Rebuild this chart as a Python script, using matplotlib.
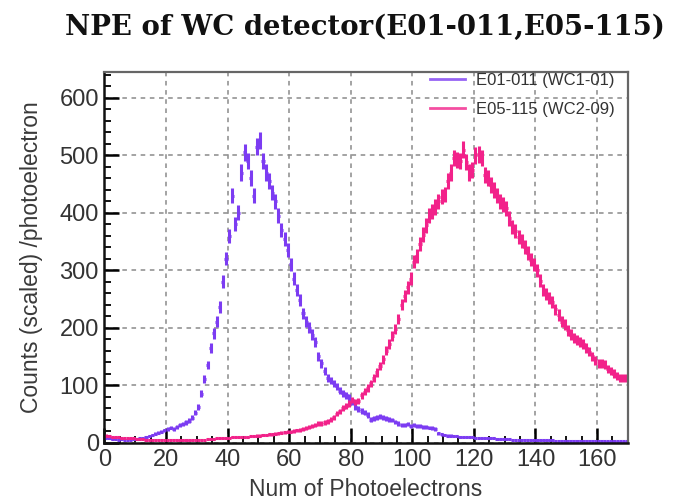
import numpy as np
import matplotlib
matplotlib.use('Agg')
import matplotlib.pyplot as plt
from matplotlib.ticker import MultipleLocator

# bin centres 0.5 ... 169.5 (1 photoelectron per bin)
bin_lo = 0
bin_hi = 170

# E01-011 (WC1-01), values read per bin
npe_wc1 = [
    8, 7, 6, 6, 5, 6, 5, 5, 5, 6,
    6, 7, 8, 9, 11, 13, 15, 17, 19, 21,
    24, 26, 24, 27, 30, 32, 35, 38, 43, 52,
    62, 85, 110, 135, 165, 190, 210, 236, 280, 320,
    360, 430, 380, 400, 470, 505, 490, 460, 430, 515,
    525, 490, 470, 455, 435, 420, 395, 370, 355, 335,
    310, 285, 265, 248, 225, 210, 200, 188, 175, 150,
    138, 125, 112, 108, 103, 98, 90, 86, 82, 78,
    70, 62, 58, 55, 52, 48, 40, 42, 44, 45,
    43, 42, 40, 39, 36, 33, 30, 31, 32, 29,
    30, 28, 29, 27, 27, 26, 25, 24, 16, 14,
    13, 12, 12, 11, 11, 10, 10, 9, 9, 9,
    8, 8, 8, 7, 7, 7, 7, 6, 6, 6,
    6, 6, 5, 5, 5, 5, 5, 5, 4, 4,
    4, 4, 4, 4, 4, 4, 3, 3, 3, 3,
    3, 3, 3, 3, 3, 3, 3, 3, 3, 3,
    3, 3, 2, 2, 2, 2, 2, 2, 2, 2,
]

# E05-115 (WC2-09), values read per bin
npe_wc2 = [
    12, 11, 10, 9, 9, 8, 8, 7, 7, 7,
    6, 6, 6, 5, 5, 5, 5, 5, 5, 5,
    5, 5, 5, 4, 4, 4, 4, 4, 4, 5,
    5, 5, 5, 6, 6, 6, 7, 7, 8, 8,
    8, 9, 9, 9, 10, 10, 10, 11, 11, 12,
    12, 13, 13, 14, 14, 15, 16, 17, 18, 19,
    19, 20, 21, 22, 24, 25, 27, 29, 31, 33,
    33, 35, 37, 40, 44, 50, 54, 60, 63, 68,
    74, 70, 72, 82, 88, 95, 103, 112, 122, 133,
    145, 160, 172, 185, 198, 215, 240, 255, 270, 285,
    315, 325, 345, 362, 378, 395, 402, 410, 420, 428,
    432, 455, 470, 495, 492, 490, 510, 488, 470, 475,
    500, 502, 495, 465, 460, 448, 440, 430, 420, 415,
    408, 390, 375, 368, 358, 350, 340, 330, 318, 310,
    300, 282, 265, 258, 252, 245, 232, 222, 210, 205,
    195, 188, 182, 178, 175, 172, 165, 158, 150, 143,
    138, 137, 136, 128, 124, 120, 116, 113, 112, 112,
]

labels = ['E01-011 (WC1-01)', 'E05-115 (WC2-09)']
colors = ['#7c3cf2', '#f2228a']

plt.rcParams['font.family'] = ['Liberation Sans', 'DejaVu Sans']

fig = plt.figure(figsize=(6.78, 5.0), dpi=100)
ax = fig.add_axes([0.154, 0.115, 0.772, 0.741])

centres = np.arange(bin_lo, bin_hi) + 0.5
for vals, lab, col in zip([npe_wc1, npe_wc2], labels, colors):
    v = np.asarray(vals, dtype=float)
    err = 0.65 * np.sqrt(v)   # scaled poisson-ish error
    ax.errorbar(centres, v, xerr=0.5, yerr=err, fmt='none', ecolor=col,
                elinewidth=2.2, capsize=0)
    ax.plot([], [], color=col, lw=2, alpha=0.8, label=lab)

ax.set_xlim(0, 170)
ax.set_ylim(0, 645)
ax.xaxis.set_major_locator(MultipleLocator(20))
ax.xaxis.set_minor_locator(MultipleLocator(5))
ax.yaxis.set_major_locator(MultipleLocator(100))
ax.yaxis.set_minor_locator(MultipleLocator(20))
ax.grid(True, which='major', color='#8a8a8a', lw=1.1, ls=(0, (3, 3)))
ax.set_axisbelow(True)

ax.tick_params(which='major', direction='in', length=11, width=1.8,
               labelsize=17, labelcolor='#333333',
               top=False, right=False)
ax.tick_params(axis='x', which='major', pad=5)
ax.tick_params(axis='y', which='major', pad=4)
ax.tick_params(which='minor', direction='in', length=5, width=1.3,
               top=False, right=False)
for s in ['left', 'bottom']:
    ax.spines[s].set_linewidth(1.8)
    ax.spines[s].set_color('#111111')
for s in ['top', 'right']:
    ax.spines[s].set_linewidth(1.6)
    ax.spines[s].set_color('#666666')

ax.set_xlabel('Num of Photoelectrons', fontsize=16.5, color='#3a3a3a', labelpad=5)
ax.set_ylabel('Counts (scaled) /photoelectron', fontsize=16.5, color='#3a3a3a',
              labelpad=12)

ax.legend(loc='upper right', bbox_to_anchor=(0.985, 1.012), frameon=False,
          fontsize=12, handlelength=2.1, labelcolor='#333333',
          borderaxespad=0.0, labelspacing=0.85, handletextpad=0.7,
          borderpad=0.3)

fig.text(0.538, 0.945, 'NPE of WC detector(E01-011,E05-115)',
         ha='center', va='center', fontsize=19.8, fontweight='bold',
         family='DejaVu Serif', color='#111111')

fig.savefig('out.png', dpi=100)
